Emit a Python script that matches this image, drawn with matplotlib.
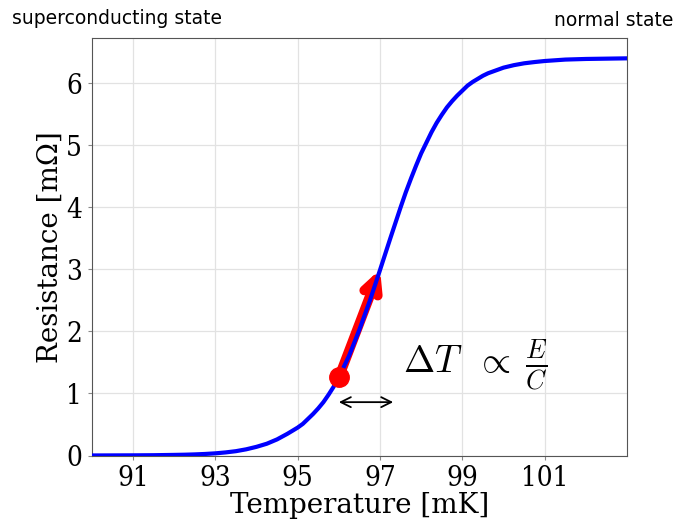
import numpy as np
import matplotlib
matplotlib.use('Agg')
import matplotlib.pyplot as plt

plt.rcParams['mathtext.fontset'] = 'cm'

### Transition curve
temperature = [90, 90.5, 91, 91.5, 92, 92.25, 92.5, 92.75, 93, 93.25, 93.5,
               93.75, 94, 94.25, 94.5, 94.75, 95, 95.125, 95.25, 95.375, 95.5,
               95.625, 95.75, 95.875, 96, 96.25, 96.5, 96.75, 97, 97.25, 97.5,
               97.625, 97.75, 97.875, 98, 98.125, 98.25, 98.375, 98.5, 98.625,
               98.75, 98.875, 99, 99.125, 99.25, 99.375, 99.5, 99.625, 99.75,
               99.875, 100, 100.25, 100.5, 100.75, 101, 101.5, 102, 102.5, 103]
resistance = [0.001, 0.002, 0.003, 0.005, 0.01, 0.013, 0.018, 0.025, 0.035,
              0.05, 0.07, 0.10, 0.14, 0.19, 0.26, 0.35, 0.45, 0.51, 0.59, 0.67,
              0.76, 0.86, 0.98, 1.11, 1.26, 1.61, 2.03, 2.49, 2.99, 3.50, 4.00,
              4.24, 4.46, 4.67, 4.87, 5.04, 5.21, 5.36, 5.49, 5.61, 5.71, 5.80,
              5.88, 5.96, 6.02, 6.07, 6.12, 6.16, 6.19, 6.22, 6.25, 6.29, 6.32,
              6.34, 6.357, 6.38, 6.39, 6.395, 6.40]

### Heating step
start_point = (96, 1.26)
end_point = (97, 3.0)
dt_left = (96, 0.86)
dt_right = (97.32, 0.86)

xticks = [91, 93, 95, 97, 99, 101]
yticks = [0, 1, 2, 3, 4, 5, 6]

fig = plt.figure(figsize=(6.75, 5.2), dpi=100)
ax = fig.add_axes([0.136, 0.124, 0.793, 0.802])

ax.plot(temperature, resistance, color='blue', lw=3, zorder=3)

ax.annotate('', xy=end_point, xytext=start_point,
            arrowprops=dict(arrowstyle='->', color='red', lw=7,
                            mutation_scale=26, shrinkA=0, shrinkB=0),
            zorder=2)
ax.plot(*start_point, 'o', color='red', ms=14, zorder=4)

ax.annotate('', xy=dt_right, xytext=dt_left,
            arrowprops=dict(arrowstyle='<->', color='black', lw=1.3,
                            mutation_scale=18, shrinkA=0, shrinkB=0))
ax.text(97.55, 1.33, r'$\Delta T\;\;\propto\;\frac{E}{C}$', fontsize=27,
        va='baseline', ha='left')

ax.set_xlim(90, 103)
ax.set_ylim(0, 6.72)
ax.set_xticks(xticks)
ax.set_yticks(yticks)
ax.tick_params(length=3, width=0.8, color='#888888', pad=4, labelsize=20)
for lab in ax.get_xticklabels() + ax.get_yticklabels():
    lab.set_family('DejaVu Serif')
    lab.set_stretch('condensed')
ax.grid(color='#e2e2e2', lw=0.9)
ax.set_axisbelow(True)
for sp in ax.spines.values():
    sp.set_color('#555555')

ax.set_xlabel('Temperature [mK]', fontsize=20, family='DejaVu Serif')
ax.set_ylabel('Resistance [mΩ]', fontsize=20, family='DejaVu Serif', labelpad=2)
ax.xaxis.set_label_coords(0.5, -0.088)

fig.text(12/675, 1-18/520, 'superconducting state', fontsize=13.5, va='center', ha='left')
fig.text(673/675, 1-20/520, 'normal state', fontsize=13.5, va='center', ha='right')

plt.savefig('out.png', dpi=100)
